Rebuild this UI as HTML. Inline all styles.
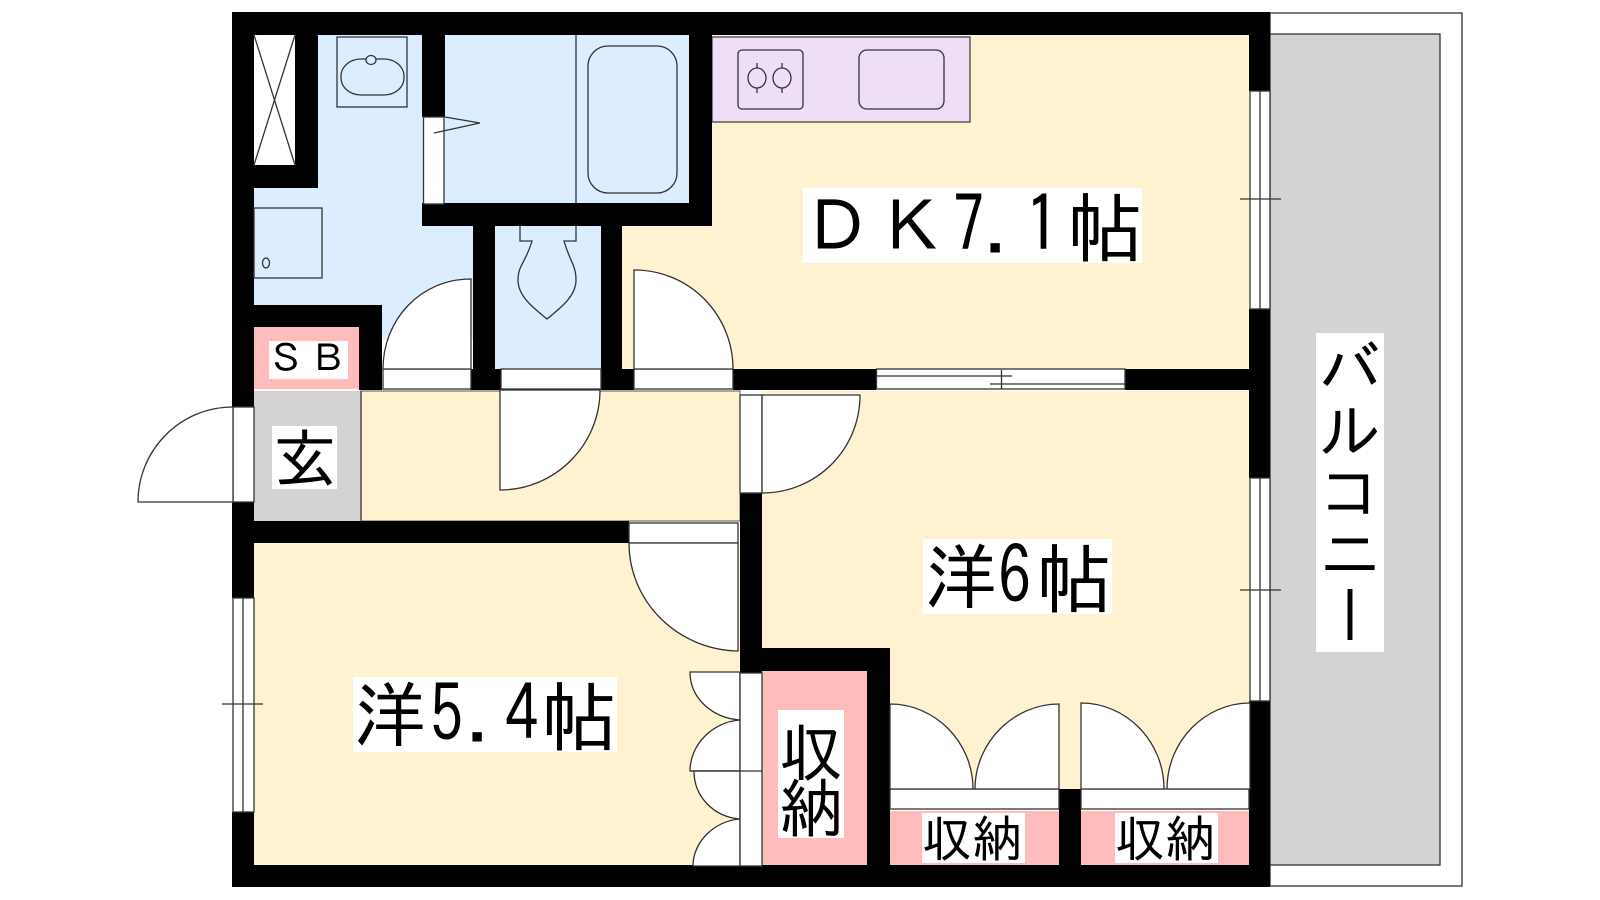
<!DOCTYPE html>
<html lang="ja"><head><meta charset="utf-8"><title>間取り図</title>
<style>
html,body{margin:0;padding:0;background:#fff;width:1600px;height:900px;overflow:hidden}
svg{display:block;position:absolute;left:0;top:0}
text{font-family:"IPAGothic","Liberation Sans","Noto Sans CJK JP",sans-serif;fill:#000}
.l{fill:none;stroke:#333;stroke-width:1.3}
.d{fill:#fff;stroke:#333;stroke-width:1.3}
#v{position:absolute;left:1318px;top:336px;width:64px;height:316px;writing-mode:vertical-rl;font-family:"IPAGothic","Noto Sans CJK JP",sans-serif;font-size:62px;line-height:64px;color:#000}
</style></head><body>
<svg width="1600" height="900" viewBox="0 0 1600 900">
<!-- balcony -->
<rect x="1270" y="13" width="192" height="873" class="d"/>
<rect x="1270" y="34" width="170" height="831" fill="#d3d3d3" stroke="#333" stroke-width="1.3"/>
<!-- rooms -->
<rect x="622" y="35" width="627" height="334" fill="#fff2d0"/>
<rect x="254" y="35" width="240" height="305" fill="#dcedff"/>
<rect x="445" y="35" width="244" height="168" fill="#dcedff"/>
<rect x="495" y="226" width="106" height="143" fill="#dcedff"/>
<rect x="712" y="37" width="258" height="85" fill="#eedff7" stroke="#444" stroke-width="1.3"/>
<rect x="361" y="391" width="379" height="130" fill="#fff2d0" stroke="#555" stroke-width="1"/>
<rect x="254" y="391" width="107" height="130" fill="#d3d3d3"/>
<rect x="254" y="543" width="486" height="322" fill="#fff2d0"/>
<rect x="762" y="391" width="487" height="398" fill="#fff2d0"/>
<rect x="254" y="327" width="105" height="62" fill="#ffbcbc"/>
<rect x="762" y="671" width="105" height="194" fill="#ffbcbc"/>
<rect x="890" y="811" width="169" height="54" fill="#ffbcbc"/>
<rect x="1081" y="811" width="168" height="54" fill="#ffbcbc"/>
<!-- walls -->
<g fill="#000">
<rect x="232" y="12" width="1038" height="23"/>
<rect x="232" y="865" width="1038" height="22"/>
<rect x="232" y="12" width="22" height="395"/>
<rect x="232" y="502" width="22" height="96"/>
<rect x="232" y="812" width="22" height="75"/>
<rect x="1249" y="12" width="21" height="79"/>
<rect x="1249" y="309" width="21" height="169"/>
<rect x="1249" y="701" width="21" height="186"/>
<rect x="295" y="35" width="23" height="153"/>
<rect x="254" y="165" width="64" height="23"/>
<rect x="254" y="305" width="128" height="22"/>
<rect x="359" y="305" width="23" height="85"/>
<rect x="422" y="35" width="23" height="82"/>
<rect x="422" y="203" width="290" height="23"/>
<rect x="689" y="35" width="23" height="191"/>
<rect x="473" y="226" width="22" height="144"/>
<rect x="470" y="369" width="31" height="21"/>
<rect x="601" y="226" width="21" height="144"/>
<rect x="601" y="369" width="33" height="21"/>
<rect x="733" y="369" width="143" height="21"/>
<rect x="1125" y="369" width="125" height="21"/>
<rect x="254" y="521" width="375" height="22"/>
<rect x="740" y="493" width="22" height="180"/>
<rect x="740" y="648" width="150" height="23"/>
<rect x="867" y="648" width="23" height="239"/>
<rect x="1059" y="789" width="22" height="98"/>
</g>
<!-- closet X -->
<rect x="254" y="35" width="41" height="130" fill="#fff"/>
<path class="l" d="M254 35L295 165M295 35L254 165"/>
<!-- wash basin -->
<rect class="l" x="337" y="37" width="70" height="70"/>
<rect class="l" x="341" y="59" width="63" height="36" rx="20" ry="17"/>
<ellipse class="d" cx="371" cy="60" rx="5" ry="4.500" style="fill:#dcedff"/>
<!-- washer -->
<rect class="l" x="254" y="208" width="68" height="70"/>
<ellipse class="l" cx="266" cy="263" rx="3.500" ry="5"/>
<!-- bath door -->
<rect class="d" x="423.500" y="117" width="20.500" height="87"/>
<path class="l" d="M445 117L480 123L434 133"/>
<!-- bath -->
<path class="l" d="M576 35V203"/>
<rect class="l" x="588" y="46" width="89" height="147" rx="20" ry="20"/>
<!-- toilet -->
<path class="l" d="M520 226V241H532C526 262 518 265 518 280C518 297 535 309 547 319C559 309 576 297 576 280C576 265 570 262 564 241H576V226"/>
<!-- door sills and swings -->
<rect class="d" x="383" y="369" width="88" height="20"/>
<path class="d" d="M471 369V279C420 279 383 320 383 369Z"/>
<rect class="d" x="501" y="369" width="100" height="20"/>
<path class="d" d="M500 390V490C555 490 600 445 600 390Z"/>
<rect class="d" x="634" y="369" width="99" height="20"/>
<path class="d" d="M634 369V270C690 270 733 315 733 369Z"/>
<!-- sliding -->
<rect class="d" x="876.500" y="369" width="248.500" height="20"/>
<path class="l" d="M876 376H1012M990 384H1125M1001.500 370V389"/>
<!-- right windows -->
<rect class="d" x="1250" y="91" width="20" height="218"/>
<path class="l" d="M1260 91V309M1240 199H1281"/>
<rect class="d" x="1250" y="478" width="20" height="223"/>
<path class="l" d="M1260 478V701M1240 590H1281"/>
<!-- left window -->
<rect class="d" x="233" y="598" width="21" height="214"/>
<path class="l" d="M243 598V812M222 704H263"/>
<!-- entry door -->
<rect class="d" x="233" y="407" width="21" height="95"/>
<path class="d" d="M233 502V407C180 407 138 450 138 502Z"/>
<path class="l" d="M361 391V521"/>
<!-- hall / room6 door -->
<rect class="d" x="740" y="395" width="22" height="98"/>
<path class="d" d="M762 395V493C816 493 860 450 860 395Z"/>
<!-- room 5.4 door -->
<rect class="d" x="629" y="523" width="109" height="20"/>
<path class="d" d="M629 543H738V651C678 650 629 602 629 543Z"/>
<!-- closet bi-fold left -->
<path class="d" d="M690 672H740V720C712 718 690 698 690 672Z"/>
<path class="d" d="M740 720V771H690C690 745 712 722 740 720Z"/>
<path class="d" d="M694 771H740V819C714 817 694 797 694 771Z"/>
<path class="d" d="M740 819V866H693C693 842 714 821 740 819Z"/>
<rect class="d" x="740" y="673" width="22" height="193"/>
<path class="l" d="M690 771H762"/>
<!-- closets bottom -->
<rect class="d" x="890" y="789" width="169" height="20"/>
<rect class="d" x="1081" y="789" width="168" height="20"/>
<path class="d" d="M890 789V704C935 704 973 742 973 789Z"/>
<path class="d" d="M1059 789V704C1014 704 975 742 975 789Z"/>
<path class="d" d="M1081 789V703C1126 703 1164 741 1164 789Z"/>
<path class="d" d="M1250 789V703C1205 703 1167 741 1167 789Z"/>
<!-- label backgrounds -->
<g fill="#fff">
<rect x="269" y="341" width="79" height="38"/>
<rect x="272" y="426" width="65" height="63"/>
<rect x="803" y="188" width="339" height="75"/>
<rect x="353" y="677" width="264" height="75"/>
<rect x="923" y="539" width="189" height="75"/>
<rect x="778" y="710" width="66" height="128"/>
<rect x="922" y="813" width="103" height="50"/>
<rect x="1115" y="813" width="103" height="50"/>
<rect x="1316" y="333" width="68" height="319"/>
</g>
<!-- kitchen stove + sink -->
<rect class="l" x="738" y="50" width="65" height="59" rx="4"/>
<ellipse class="l" cx="757" cy="78" rx="9" ry="10"/>
<ellipse class="l" cx="782" cy="78" rx="9" ry="10"/>
<path class="l" d="M757 63V68M757 88V93M782 63V68M782 88V93"/>
<rect class="l" x="859" y="50" width="85" height="59" rx="8"/>
<!-- labels -->
<text x="267 309" y="372" font-size="38">ＳＢ</text>
<text x="273" y="482" font-size="64">玄</text>
<text x="802" y="252" font-size="70">Ｄ</text>
<text x="877" y="252" font-size="70">Ｋ</text>
<text transform="translate(953,253) scale(0.9,1.12)" font-size="70">7</text>
<text x="984" y="252" font-size="70">.</text>
<text transform="translate(1025,253) scale(1,1.12)" font-size="70">1</text>
<text x="1067" y="256" font-size="76">帖</text>
<text x="354" y="741" font-size="72">洋</text>
<text transform="translate(430,742) scale(0.95,1.12)" font-size="70">5</text>
<text x="466" y="741" font-size="70">.</text>
<text transform="translate(505,742) scale(0.95,1.12)" font-size="70">4</text>
<text x="541" y="745" font-size="76">帖</text>
<text x="925" y="603" font-size="72">洋</text>
<text transform="translate(998,604) scale(0.95,1.12)" font-size="70">6</text>
<text x="1036" y="607" font-size="76">帖</text>
<text x="779" y="776" font-size="64">収</text>
<text x="779" y="832" font-size="64">納</text>
<text x="922 972" y="857" font-size="50">収納</text>
<text x="1115 1165" y="857" font-size="50">収納</text>
</svg>
<div id="v">バルコニー</div>
</body></html>
